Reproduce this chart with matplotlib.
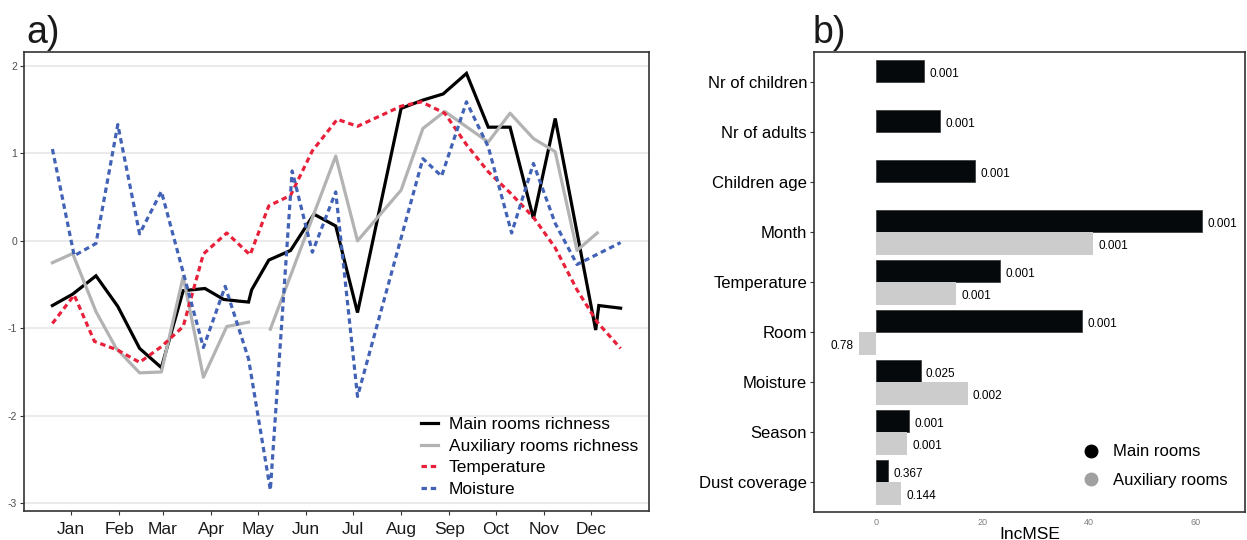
import numpy as np
import matplotlib
matplotlib.use("Agg")
import matplotlib.pyplot as plt
from matplotlib.lines import Line2D

plt.rcParams["font.family"] = ["Liberation Sans", "DejaVu Sans"]

# ---------------- panel a: standardised monthly series ----------------
month_labels = ["Jan", "Feb", "Mar", "Apr", "May", "Jun",
                "Jul", "Aug", "Sep", "Oct", "Nov", "Dec"]
month_start_days = [0, 31, 59, 90, 120, 151, 181, 212, 243, 273, 304, 334]

# sampling day (days since 1 January) and standardised value for each series
main_days = [-12, 1, 16, 30, 44, 58, 72, 86, 98, 108, 114, 116, 127, 141, 156,
             170, 184, 212, 226, 239, 254, 268, 282, 297, 311, 337, 339, 353]
main_richness = [-0.74, -0.61, -0.40, -0.75, -1.23, -1.45, -0.57, -0.545, -0.67,
                 -0.69, -0.70, -0.56, -0.22, -0.11, 0.305, 0.17, -0.82, 1.515,
                 1.61, 1.68, 1.915, 1.30, 1.30, 0.255, 1.40, -1.02, -0.74, -0.77]

aux_days = [-12, 1, 16, 29, 44, 58, 72, 85, 100, 114, 120, 128, 170, 184, 212,
            226, 240, 268, 282, 297, 311, 325, 338]
aux_richness = [-0.25, -0.145, -0.81, -1.23, -1.51, -1.50, -0.41, -1.56, -0.98,
                -0.93, np.nan, -1.01, 0.97, 0.0, 0.58, 1.285, 1.48, 1.13, 1.46,
                1.17, 1.02, -0.11, 0.09]

temp_days = [-12, 2, 15, 30, 44, 58, 72, 85, 100, 115, 127, 141, 155, 171, 184,
             212, 225, 240, 254, 268, 282, 297, 311, 325, 338, 353]
temperature = [-0.945, -0.62, -1.15, -1.25, -1.39, -1.21, -0.98, -0.15, 0.09,
               -0.16, 0.40, 0.52, 1.03, 1.39, 1.31, 1.54, 1.59, 1.46, 1.10, 0.79,
               0.55, 0.27, -0.08, -0.56, -0.93, -1.23]

moist_days = [-12, 2, 16, 30, 44, 58, 85, 99, 114, 128, 142, 155, 170, 184, 226,
              238, 254, 268, 283, 297, 311, 325, 353]
moisture = [1.05, -0.17, -0.03, 1.33, 0.08, 0.565, -1.22, -0.52, -1.35, -2.85,
            0.80, -0.13, 0.56, -1.78, 0.94, 0.74, 1.59, 1.075, 0.09, 0.885, 0.20,
            -0.27, -0.02]

# ---------------- panel b: random forest importance ----------------
predictors = ["Nr of children", "Nr of adults", "Children age", "Month",
              "Temperature", "Room", "Moisture", "Season", "Dust coverage"]
main_incmse = [9.0, 11.9, 18.5, 61.3, 23.2, 38.6, 8.3, 6.1, 2.2]
aux_incmse = [np.nan, np.nan, np.nan, 40.8, 14.9, -3.3, 17.15, 5.7, 4.7]
main_pval = ["0.001", "0.001", "0.001", "0.001", "0.001", "0.001", "0.025",
             "0.001", "0.367"]
aux_pval = [None, None, None, "0.001", "0.001", "0.78", "0.002", "0.001", "0.144"]

W, H = 1247, 540
fig = plt.figure(figsize=(W / 100, H / 100), dpi=100)

def px_box(x0, y0, x1, y1):
    return [x0 / W, 1 - y1 / H, (x1 - x0) / W, (y1 - y0) / H]

frame_col = "#333333"

# ---- panel a ----
axL = fig.add_axes(px_box(24, 52, 649, 511))
red = "#e8203a"
blue = "#4262b6"
lw = 2.3
axL.plot(main_days, main_richness, color="black", lw=lw,
         solid_joinstyle="miter", label="Main rooms richness")
axL.plot(aux_days, aux_richness, color="#b3b3b3", lw=lw,
         label="Auxiliary rooms richness")
axL.plot(temp_days, temperature, color=red, lw=lw, dashes=(1.7, 1.2),
         label="Temperature")
axL.plot(moist_days, moisture, color=blue, lw=lw, dashes=(1.7, 1.2),
         label="Moisture")

axL.set_xlim(-30.25, 371.25)
axL.set_ylim(-3.09, 2.16)
axL.set_xticks(month_start_days)
axL.set_xticklabels(month_labels)
axL.set_yticks([-3, -2, -1, 0, 1, 2])
axL.set_yticklabels(["-3", "-2", "-1", "0", "1", "2"])
axL.yaxis.grid(True, color="#ebebeb", lw=1.4)
axL.set_axisbelow(True)
axL.tick_params(axis="y", labelsize=7.5, labelcolor="#4d4d4d", color=frame_col,
                length=3, width=0.8, pad=2)
axL.tick_params(axis="x", labelsize=12.5, labelcolor="#1a1a1a", color=frame_col,
                length=3, width=0.8, pad=5)
for s in axL.spines.values():
    s.set_color(frame_col)
    s.set_linewidth(1.2)

axL.legend(loc="upper left", bbox_to_anchor=(421 / W, 1 - 417 / H),
           bbox_transform=fig.transFigure, frameon=False, fontsize=12.5,
           handlelength=1.0, handletextpad=0.6, labelspacing=0.37,
           borderpad=0, borderaxespad=0)

fig.text(26 / W, 1 - 43 / H, "a)", fontsize=27, va="baseline", ha="left",
         color="#1a1a1a")

# ---- panel b ----
axR = fig.add_axes(px_box(814, 52.3, 1245, 512.3))
ypos = np.arange(len(predictors))
bh = 0.45
axR.barh(ypos - bh / 2, main_incmse, height=bh, color="#05090b",
         edgecolor="#333333", linewidth=0.5, label="Main rooms")
axR.barh(ypos + bh / 2, aux_incmse, height=bh, color="#cccccc",
         linewidth=0, label="Auxiliary rooms")

off = 1.0
for y, v, p in zip(ypos, main_incmse, main_pval):
    if p is None or np.isnan(v):
        continue
    axR.text(v + off if v >= 0 else v - off, y - bh / 2 + 0.05, p,
             ha="left" if v >= 0 else "right", va="center", fontsize=8.5)
for y, v, p in zip(ypos, aux_incmse, aux_pval):
    if p is None or np.isnan(v):
        continue
    axR.text(v + off if v >= 0 else v - off, y + bh / 2 + 0.05, p,
             ha="left" if v >= 0 else "right", va="center", fontsize=8.5)

axR.set_xlim(-11.75, 69.3)
axR.set_ylim(8.6, -0.6)
axR.set_yticks(ypos)
axR.set_yticklabels(predictors)
axR.set_xticks([0, 20, 40, 60])
axR.tick_params(axis="y", labelsize=12, labelcolor="black", color=frame_col,
                length=3, width=0.8, pad=2)
axR.tick_params(axis="x", labelsize=6.5, labelcolor="#7f7f7f", length=0, pad=4)
axR.set_xlabel("IncMSE", fontsize=12.5, labelpad=0)
for s in axR.spines.values():
    s.set_color(frame_col)
    s.set_linewidth(1.2)

handles = [Line2D([], [], ls="none", marker="o", ms=9, color="black"),
           Line2D([], [], ls="none", marker="o", ms=9, color="#a0a0a0")]
axR.legend(handles, ["Main rooms", "Auxiliary rooms"], loc="upper left",
           bbox_to_anchor=(1082.7 / W, 1 - 444.5 / H),
           bbox_transform=fig.transFigure, frameon=False, fontsize=12,
           handlelength=1.0, handletextpad=0.8, labelspacing=0.78,
           borderpad=0, borderaxespad=0)

fig.text(813 / W, 1 - 43 / H, "b)", fontsize=27, va="baseline", ha="left",
         color="#1a1a1a")

fig.savefig("out.png", dpi=100)
